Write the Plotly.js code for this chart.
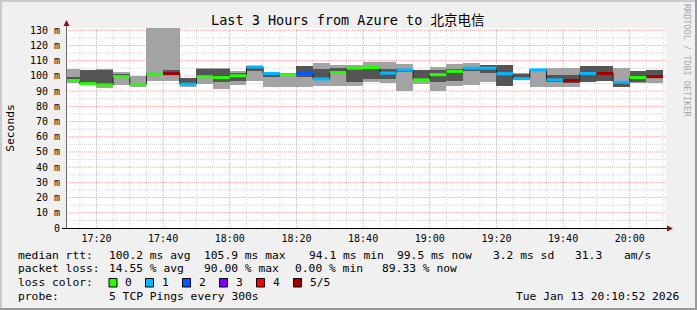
<!DOCTYPE html>
<html>
<head>
<meta charset="utf-8">
<script src="https://cdn.plot.ly/plotly-3.0.1.min.js"></script>
<style>
html,body{margin:0;padding:0;background:#f0f0f0;}
#chart{width:697px;height:310px;}
</style>
</head>
<body>
<div id="chart"></div>
<script>
// ---- data (5-minute steps, labelled by step end time) ----
const stepEnds = ['17:15','17:20','17:25','17:30','17:35','17:40','17:45','17:50','17:55','18:00',
                  '18:05','18:10','18:15','18:20','18:25','18:30','18:35','18:40','18:45','18:50',
                  '18:55','19:00','19:05','19:10','19:15','19:20','19:25','19:30','19:35','19:40',
                  '19:45','19:50','19:55','20:00','20:05','20:10'];
const smokeMin = [95.2,93.9,91.9,94.3,92.4,96.7,96.7,92.5,94.5,91.5,
                  94.1,96.8,92.6,92.6,92.6,93.4,93.4,93.4,96.3,95.6,
                  90.4,94.7,90.4,93.4,94.1,96.0,93.4,97.8,93.0,93.0,
                  93.0,96.3,96.9,92.6,95.6,95.2];
const smokeLo  = [97.5,95.2,94.5,99.3,93.6,101.0,101.5,95.0,99.5,95.7,
                  96.7,103.3,99.6,99.8,99.1,97.6,101.5,96.3,98.0,98.0,
                  102.8,96.5,96.3,96.5,103.0,102.0,93.6,98.2,96.5,96.3,
                  95.2,96.3,96.9,92.6,96.3,98.5];
const medianRtt= [97.0,94.9,94.1,99.5,94.3,101.1,101.5,94.6,99.5,98.9,
                  100.1,105.9,101.6,100.9,101.6,98.0,102.2,105.1,105.5,101.8,
                  103.9,97.4,100.8,103.0,105.1,105.1,101.5,98.2,104.0,97.4,
                  96.9,101.6,101.6,95.8,98.9,99.5];
const smokeHi  = [99.0,103.8,103.7,101.3,95.0,102.2,103.9,98.4,104.8,104.6,
                  101.8,106.0,101.8,102.2,106.6,104.6,105.0,104.4,104.6,104.6,
                  104.6,104.2,104.0,104.5,105.5,107.0,107.0,101.0,96.5,100.7,
                  100.7,106.6,106.6,96.3,103.5,103.9];
const smokeMax = [104.6,104.2,104.6,102.6,100.0,135,135,98.5,105.0,105.0,
                  103.3,106.3,102.2,102.2,106.6,108.7,107.2,107.0,109.2,109.2,
                  107.9,104.2,106.1,107.9,108.7,107.0,107.2,102.2,103.5,105.0,
                  105.0,106.6,106.6,105.0,103.5,103.9];
const lossLevel= [0,0,0,0,0,0,5,1,0,0,
                  0,1,1,0,2,1,0,0,0,1,
                  1,0,0,0,1,1,1,1,1,1,
                  5,1,5,1,0,5];
const lossNames  = ['0','1','2','3','4','5/5'];
const lossColors = ['#26ff00','#00b8ff','#0059ff','#7e00ff','#ff0000','#a00000'];
const yTickVals = [0,10,20,30,40,50,60,70,80,90,100,110,120,130];
const yTickText = ['0','10 m','20 m','30 m','40 m','50 m','60 m','70 m','80 m','90 m','100 m','110 m','120 m','130 m'];
const viewStart = '17:10:52', viewEnd = '20:10:52';

// ---- helpers ----
function toMs(t){const p=t.split(':').map(Number);return Date.UTC(2026,0,13,p[0],p[1],p[2]||0);}
const STEP = 5*60*1000;
const ends = stepEnds.map(toMs);
const centers = ends.map(e=>e-STEP/2);
const starts = ends.map(e=>e-STEP);
const W=600, L=66, T=28, B=228;
const px = x => (x-L)/W;
const py = y => (B-y)/(B-T);
const MONO = 'DejaVu Sans Mono, Noto Sans CJK SC, monospace';

const traces = [];
// light smoke (min..max)
traces.push({type:'bar', x:centers, base:smokeMin, y:smokeMax.map((v,i)=>v-smokeMin[i]),
  width:STEP, marker:{color:'#a3a3a3', line:{width:0}}, hoverinfo:'skip'});
// dark smoke (inner pings)
traces.push({type:'bar', x:centers, base:smokeLo, y:smokeHi.map((v,i)=>v-smokeLo[i]),
  width:STEP, marker:{color:'#555555', line:{width:0}}, hoverinfo:'skip'});
// black median step line
traces.push({type:'scatter', mode:'lines', x:starts.concat([ends[ends.length-1]]),
  y:medianRtt.concat([medianRtt[medianRtt.length-1]]), line:{shape:'hv', color:'#202020', width:1}, hoverinfo:'skip'});
// coloured median segments by loss
lossColors.forEach((c,lv)=>{
  const xs=[], ys=[];
  medianRtt.forEach((m,i)=>{ if(lossLevel[i]===lv){ xs.push(starts[i],ends[i],null); ys.push(m,m,null);} });
  if(xs.length) traces.push({type:'scatter', mode:'lines', x:xs, y:ys, line:{color:c,width:3}, hoverinfo:'skip', connectgaps:false});
});

// ---- grid ----
const shapes = [];
const x0 = toMs(viewStart), x1 = toMs(viewEnd);
for(let v=5; v<=130; v+=5){
  shapes.push({type:'line', layer:'below', xref:'paper', yref:'y', x0:0, x1:1, y0:v, y1:v,
    line:{color: v%10===0 ? '#f3a3a3' : '#d6d6d6', width:1, dash:'1px,1px'}});
}
for(let t=toMs('17:15'); t<=x1; t+=STEP){
  const major = ((t - toMs('17:00'))/STEP)%4===0;
  shapes.push({type:'line', layer:'below', xref:'x', yref:'paper', x0:t, x1:t, y0:0, y1:1,
    line:{color: major ? '#f3a3a3' : '#d6d6d6', width:1, dash:'1px,1px'}});
}
// axes + arrows
shapes.push({type:'line', layer:'above', xref:'paper', yref:'paper', x0:px(66.5), x1:px(66.5), y0:0, y1:py(25), line:{color:'#6a6a6a', width:1}});
shapes.push({type:'line', layer:'above', xref:'paper', yref:'paper', x0:px(62), x1:px(669), y0:py(228.5), y1:py(228.5), line:{color:'#000000', width:1}});
shapes.push({type:'path', layer:'above', xref:'paper', yref:'paper',
  path:`M ${px(63.5)} ${py(26)} L ${px(69.5)} ${py(26)} L ${px(66.5)} ${py(20)} Z`, fillcolor:'#8b1010', line:{width:0}});
shapes.push({type:'path', layer:'above', xref:'paper', yref:'paper',
  path:`M ${px(667)} ${py(225.5)} L ${px(667)} ${py(231.5)} L ${px(673)} ${py(228.5)} Z`, fillcolor:'#8b1010', line:{width:0}});
// frame
shapes.push({type:'rect', layer:'above', xref:'paper', yref:'paper', x0:px(0), x1:px(697), y0:py(0), y1:py(2), fillcolor:'#cbcbcb', line:{width:0}});
shapes.push({type:'rect', layer:'above', xref:'paper', yref:'paper', x0:px(0), x1:px(2), y0:py(0), y1:py(310), fillcolor:'#cbcbcb', line:{width:0}});
shapes.push({type:'rect', layer:'above', xref:'paper', yref:'paper', x0:px(695), x1:px(697), y0:py(0), y1:py(310), fillcolor:'#999999', line:{width:0}});
shapes.push({type:'rect', layer:'above', xref:'paper', yref:'paper', x0:px(0), x1:px(697), y0:py(308), y1:py(310), fillcolor:'#999999', line:{width:0}});

// ---- legend text ----
const annotations = [];
function txt(s,x,y,opt){
  annotations.push(Object.assign({text:s.replace(/ /g,'\u00a0'), xref:'paper', yref:'paper', x:px(x), y:py(y),
    xanchor:'left', yanchor:'middle', showarrow:false, font:{family:MONO, size:11.3, color:'#000'}}, opt||{}));
}
const L1=255, L2=268.5, L3=282.5, L4=296;
txt('median rtt:',16,L1); txt('100.2 ms avg',107,L1); txt('105.9 ms max',202,L1); txt('94.1 ms min',307,L1);
txt('99.5 ms now',395,L1); txt('3.2 ms sd',491,L1); txt('31.3',573,L1); txt('am/s',622,L1);
txt('packet loss:',16,L2); txt('14.55 % avg',107,L2); txt('90.00 % max',202,L2); txt('0.00 % min',293,L2); txt('89.33 % now',380,L2);
txt('loss color:',16,L3);
const swX = [109,145.5,182.5,219.5,256.5,293.5];
lossNames.forEach((n,i)=>{
  shapes.push({type:'rect', layer:'above', xref:'paper', yref:'paper', x0:px(swX[i]), x1:px(swX[i]+8), y0:py(278.5), y1:py(287),
    fillcolor:lossColors[i], line:{color:'#000', width:1}});
  txt(n, swX[i]+14, L3);
});
txt('probe:',16,L4); txt('5 TCP Pings every 300s',107,L4);
txt('Tue Jan 13 20:10:52 2026',681,L4,{xanchor:'right'});
// title & side credit
annotations.push({text:'Last 3 Hours from Azure to 北京电信', xref:'paper', yref:'paper', x:px(347.5), y:py(20.5),
  xanchor:'center', yanchor:'middle', showarrow:false, font:{family:MONO, size:13.5, color:'#000'}});
annotations.push({text:'RRDTOOL / TOBI OETIKER', xref:'paper', yref:'paper', x:px(687), y:py(60),
  xanchor:'center', yanchor:'middle', textangle:90, showarrow:false, font:{family:MONO, size:8.5, color:'#a8a8a8'}});

const layout = {
  width:697, height:310,
  margin:{l:66, r:31, t:28, b:82, pad:0},
  paper_bgcolor:'#f0f0f0', plot_bgcolor:'#ffffff',
  barmode:'overlay', bargap:0, showlegend:false, hovermode:false,
  xaxis:{type:'date', range:[x0,x1], showgrid:false, zeroline:false, showline:false, ticks:'',
    tick0:toMs('17:20'), dtick:20*60*1000, tickformat:'%H:%M', ticklabelstandoff:3,
    tickfont:{family:MONO, size:10, color:'#000'}, fixedrange:true},
  yaxis:{range:[0,131.5], tickmode:'array', tickvals:yTickVals, ticktext:yTickText,
    showgrid:false, zeroline:false, showline:false, ticks:'', ticklabelstandoff:5,
    tickfont:{family:MONO, size:10, color:'#000'},
    title:{text:'Seconds', font:{family:MONO, size:11.3, color:'#000'}, standoff:12}, fixedrange:true},
  shapes:shapes, annotations:annotations
};
Plotly.newPlot('chart', traces, layout, {displayModeBar:false, staticPlot:true});
</script>
</body>
</html>
